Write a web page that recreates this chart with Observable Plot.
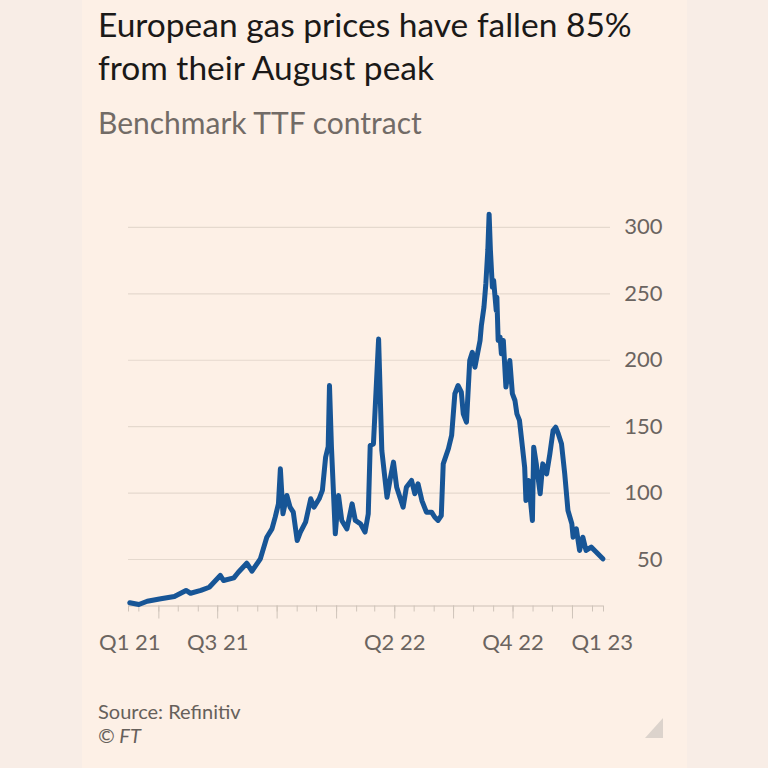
<!DOCTYPE html>
<html>
<head>
<meta charset="utf-8">
<script src="https://cdn.jsdelivr.net/npm/d3@7"></script>
<script src="https://cdn.jsdelivr.net/npm/@observablehq/plot@0.6"></script>
<style>
  html, body { margin: 0; padding: 0; }
  body { width: 768px; height: 768px; background: #f8ede6; position: relative; overflow: hidden; font-family: Lato, "Noto Sans", sans-serif; }
  #card { position: absolute; left: 82px; top: 0; width: 605px; height: 768px; background: #fdf0e6; }
  #title { position: absolute; left: 16px; top: 3px; font-size: 33.5px; line-height: 43px; color: #1b1918; white-space: nowrap; }
  #subtitle { position: absolute; left: 16px; top: 105px; font-size: 30px; line-height: 34px; color: #726b66; white-space: nowrap; }
  #chart { position: absolute; left: 0; top: 150px; }
  #source { position: absolute; left: 16px; top: 699px; font-size: 20px; line-height: 24px; color: #66605b; }
  #source .ft { font-style: italic; }
  #corner { position: absolute; left: 563px; top: 718px; width: 18px; height: 20px; background: #dcd3cc; clip-path: polygon(100% 0, 100% 100%, 0 100%); }
</style>
</head>
<body>
<div id="card">
  <div id="title">European gas prices have fallen 85%<br>from their August peak</div>
  <div id="subtitle">Benchmark TTF contract</div>
  <div id="chart"></div>
  <div id="source">Source: Refinitiv<br><span class="ft">© FT</span></div>
  <div id="corner"></div>
</div>
<script>
// Benchmark TTF contract, €/MWh
const dates = [
  "2021-02-15","2021-03-01","2021-03-14","2021-04-04","2021-04-25","2021-05-13","2021-05-20","2021-06-05","2021-06-18",
  "2021-07-05","2021-07-10","2021-07-26","2021-08-02","2021-08-15","2021-08-23","2021-09-05","2021-09-15","2021-09-23",
  "2021-09-28","2021-10-03","2021-10-06","2021-10-10","2021-10-16","2021-10-21","2021-10-26","2021-11-01","2021-11-06",
  "2021-11-14","2021-11-22","2021-11-27","2021-12-05","2021-12-10","2021-12-15","2021-12-19","2021-12-21","2021-12-24",
  "2021-12-30","2022-01-04","2022-01-09","2022-01-17","2022-01-25","2022-01-30","2022-02-07","2022-02-14","2022-02-19",
  "2022-02-22","2022-02-27","2022-03-07","2022-03-12","2022-03-20","2022-03-25","2022-03-30","2022-04-04","2022-04-14",
  "2022-04-19","2022-04-27","2022-05-02","2022-05-07","2022-05-13","2022-05-20","2022-05-28","2022-06-02","2022-06-07",
  "2022-06-12","2022-06-15","2022-06-23","2022-06-28","2022-07-03","2022-07-08","2022-07-13","2022-07-16","2022-07-21",
  "2022-07-26","2022-07-30","2022-08-03","2022-08-06","2022-08-11","2022-08-13","2022-08-17","2022-08-20","2022-08-23",
  "2022-08-25","2022-08-27","2022-08-30","2022-09-01","2022-09-05","2022-09-06","2022-09-08","2022-09-11","2022-09-13",
  "2022-09-16","2022-09-20","2022-09-23","2022-09-26","2022-09-30","2022-10-04","2022-10-07","2022-10-11","2022-10-15",
  "2022-10-19","2022-10-21","2022-10-25","2022-10-31","2022-11-02","2022-11-06","2022-11-12","2022-11-16","2022-11-22",
  "2022-11-27","2022-12-02","2022-12-06","2022-12-10","2022-12-15","2022-12-20","2022-12-25","2022-12-31","2023-01-02",
  "2023-01-07","2023-01-12","2023-01-17","2023-01-22","2023-01-30","2023-02-07","2023-02-17"
];
const prices = [
  17.5,16.1,18.6,20.4,22.1,26.7,24.6,26.7,29.1,
  38.0,34.2,36.2,40.4,47.2,41.2,50.5,66.8,73.1,
  81.9,91.9,118.3,84.4,98.2,89.4,85.6,64.3,70.6,
  78.1,95.7,89.4,95.7,102,127,135,181,135,
  69.3,98.2,79.4,73.1,91.9,79.4,76.9,70.6,84.4,
  135.8,137,216,132,96.9,110.8,123.3,104.4,89.4,
  104.4,109.5,99.5,107,94.4,85.6,85.6,81.8,79.4,
  83.1,122,133.4,143.4,174.8,181,176,159.7,153.4,
  199.8,206,194.8,202.3,214.9,226,240,258,283,
  310,283,255,260,237.5,247.5,214.9,217.4,204.9,
  214.9,179.8,189.8,199.8,174.8,169.7,159.7,154.7,137.1,
  119.5,94.4,109.5,79.4,134.6,122,99.5,122,114.5,
  129.6,147.1,149.6,144.7,137.1,114.5,86.9,76.9,66.8,
  73.1,56.8,66.8,56.8,59.3,55.5,50.5
];
const yTicks = [50, 100, 150, 200, 250, 300];
const xTickLabels = ["Q1 21", "Q3 21", "Q2 22", "Q4 22", "Q1 23"];
const xTickDates = ["2021-02-15", "2021-07-01", "2022-04-01", "2022-10-01", "2023-02-16"];
const xDomain = ["2021-02-13", "2023-02-18"].map(d => new Date(d));
const yDomain = [15, 315];

const data = dates.map((d, i) => ({date: new Date(d), value: prices[i]}));
const labelMap = new Map(xTickDates.map((d, i) => [+new Date(d), xTickLabels[i]]));
const monthTicks = [xDomain[0], ...d3.utcMonth.range(new Date("2021-03-01"), new Date("2023-02-02")), xDomain[1]];
const quarterTicks = d3.utcMonth.every(3).range(new Date("2021-04-01"), new Date("2023-01-02"));

const chart = Plot.plot({
  width: 605,
  height: 510,
  marginLeft: 46,
  marginRight: 84,
  marginTop: 57,
  marginBottom: 54.5,
  style: {background: "transparent", fontFamily: "Lato, 'Noto Sans', sans-serif", color: "#6b6460"},
  x: {type: "utc", domain: xDomain},
  y: {domain: yDomain},
  marks: [
    Plot.gridY({ticks: yTicks, stroke: "#e5d9ce", strokeOpacity: 1, strokeWidth: 1.2, insetRight: -7}),
    Plot.ruleY([yDomain[0]], {stroke: "#ddd1c6", strokeWidth: 1.5}),
    Plot.axisX({ticks: monthTicks, tickSize: 6, tickFormat: () => "", stroke: "#cfc4ba", label: null}),
    Plot.axisX({ticks: quarterTicks, tickSize: 13, tickFormat: () => "", stroke: "#cfc4ba", label: null}),
    Plot.axisX({ticks: xTickDates.map(d => new Date(d)), tickSize: 0, tickPadding: 28, fontSize: 22,
      tickFormat: d => labelMap.get(+d), fill: "#6b6460", label: null}),
    Plot.axisY({ticks: yTicks, anchor: "right", tickSize: 0, tickPadding: 59, textAnchor: "end",
      fontSize: 22, fill: "#6b6460", label: null}),
    Plot.line(data, {x: "date", y: "value", stroke: "#175596", strokeWidth: 5, strokeLinejoin: "round", strokeLinecap: "round"})
  ]
});
document.getElementById("chart").appendChild(chart);
</script>
</body>
</html>
